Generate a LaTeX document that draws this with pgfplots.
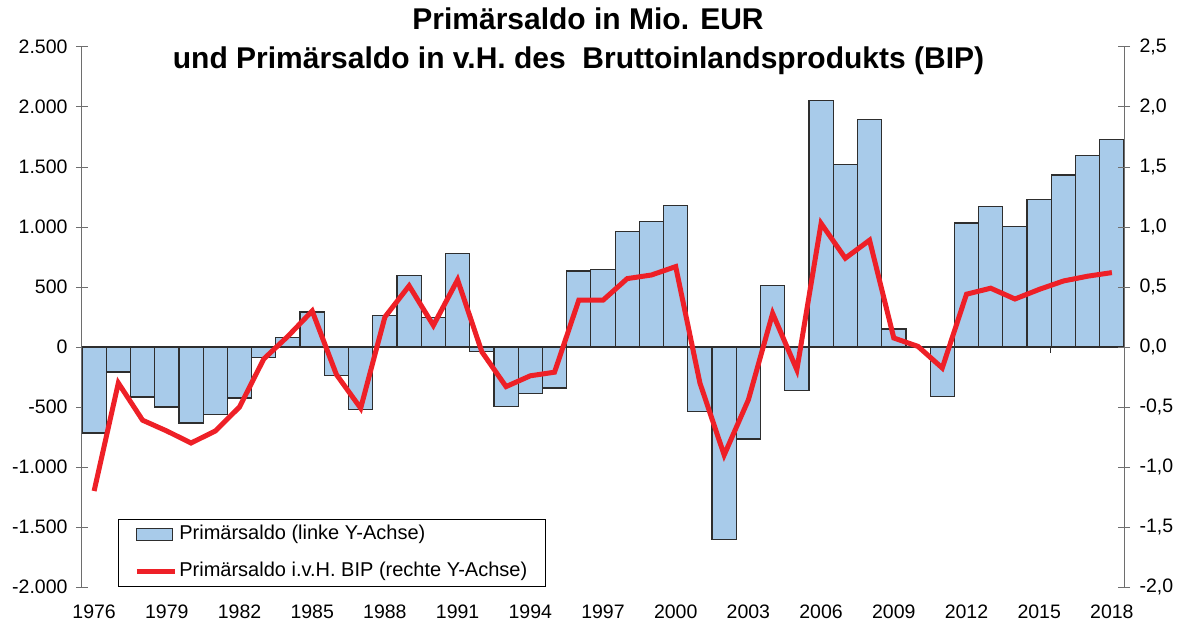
\documentclass[border=0pt]{standalone}
\usepackage{pgfplots}
\usepackage{pgfplotstable}
\pgfplotsset{compat=1.18}
\usepackage{fontspec}
\setmainfont{Liberation Sans}

\definecolor{barblue}{HTML}{A8CBEA}
\definecolor{linered}{HTML}{EE2027}
\definecolor{edge}{HTML}{2E2E2E}
\definecolor{axgray}{HTML}{6E6E6E}

% i = year - 1976
\pgfplotstableread{
i bar
0 -717
1 -208
2 -417
3 -500
4 -633
5 -564
6 -425
7 -86
8 81
9 292
10 -236
11 -522
12 261
13 594
14 244
15 781
16 -36
17 -494
18 -389
19 -342
20 633
21 647
22 961
23 1047
24 1180
25 -536
26 -1606
27 -767
28 514
29 -364
30 2053
31 1519
32 1894
33 150
34 5
35 -411
36 1033
37 1172
38 1006
39 1228
40 1433
41 1594
42 1731
}\bardata

\pgfplotstableread{
i pct
0 -1.20
1 -0.30
2 -0.61
3 -0.70
4 -0.80
5 -0.70
6 -0.50
7 -0.10
8 0.09
9 0.30
10 -0.23
11 -0.51
12 0.25
13 0.51
14 0.18
15 0.56
16 -0.04
17 -0.33
18 -0.24
19 -0.21
20 0.39
21 0.39
22 0.57
23 0.60
24 0.67
25 -0.30
26 -0.90
27 -0.44
28 0.28
29 -0.19
30 1.03
31 0.74
32 0.89
33 0.075
34 0.005
35 -0.175
36 0.44
37 0.49
38 0.40
39 0.48
40 0.55
41 0.59
42 0.62
}\linedata

\begin{document}
\begin{tikzpicture}
\pgfplotsset{
  common/.style={
    scale only axis, width=1042pt, height=540pt,
    xmin=-0.5, xmax=42.5,
    tick align=center, major tick length=12pt,
    ticklabel style={font=\fontsize{19.5}{22}\selectfont},
    /pgf/number format/assume math mode=true,
    y axis line style={axgray, line width=1pt},
    y tick style={axgray, line width=1pt},
  }
}
\begin{axis}[common, name=ax,
  ymin=-2000, ymax=2500,
  axis y line*=left, axis x line*=bottom,
  x axis line style={draw=none},
  x tick style={draw=none},
  xtick={0,3,...,42},
  xticklabels={1976,1979,1982,1985,1988,1991,1994,1997,2000,2003,2006,2009,2012,2015,2018},
  xticklabel style={yshift=-8pt},
  ytick={-2000,-1500,...,2500},
  yticklabel style={xshift=-5pt, /pgf/number format/.cd, fixed, 1000 sep={.}},
]
\addplot[ybar, bar width=1, fill=barblue, draw=edge, line width=1.2pt] table[x=i,y=bar]{\bardata};
\draw[edge, line width=1.3pt] (axis cs:-0.5,0) -- (axis cs:42.5,0);
\draw[edge, line width=1pt] (axis cs:39.45,0) -- ++(0pt,-6pt);
\end{axis}
\begin{axis}[common,
  ymin=-2.0, ymax=2.5,
  axis y line*=right, axis x line=none,
  ytick={-2,-1.5,...,2.5},
  yticklabel style={xshift=6pt, /pgf/number format/.cd, fixed, fixed zerofill, precision=1, use comma},
  legend style={at={(axis description cs:0.0345,0)}, anchor=south west,
    draw=black, line width=0.8pt, fill=white, font=\fontsize{20}{22}\selectfont,
    inner xsep=16pt, inner ysep=4pt, row sep=15pt,
    nodes={inner sep=2pt, text height=14pt, text depth=4pt}},
  legend cell align=left,
]
\addlegendimage{legend image code/.code={\draw[fill=barblue, draw=edge, line width=1.1pt] (0pt,-6pt) rectangle (36pt,6pt);}}
\addlegendentry{Primärsaldo (linke Y-Achse)}
\addplot[linered, line width=5pt, legend image code/.code={\draw[linered, line width=5pt] (0pt,0pt) -- (38pt,0pt);}] table[x=i,y=pct]{\linedata};
\addlegendentry{Primärsaldo i.v.H. BIP (rechte Y-Achse)}
\end{axis}
\node[font=\fontsize{30}{34}\selectfont\bfseries, anchor=base] at ([xshift=506pt, yshift=557pt]ax.south west) {Primärsaldo in Mio. EUR};
\node[font=\fontsize{30}{34}\selectfont\bfseries, anchor=base] at ([xshift=496.5pt, yshift=518pt]ax.south west) {und Primärsaldo in v.H. des\ \ Bruttoinlandsprodukts (BIP)};
\pgfresetboundingbox
\path (ax.south west) ++(-82pt,-38pt) rectangle ++(1179pt,625pt);
\end{tikzpicture}
\end{document}
